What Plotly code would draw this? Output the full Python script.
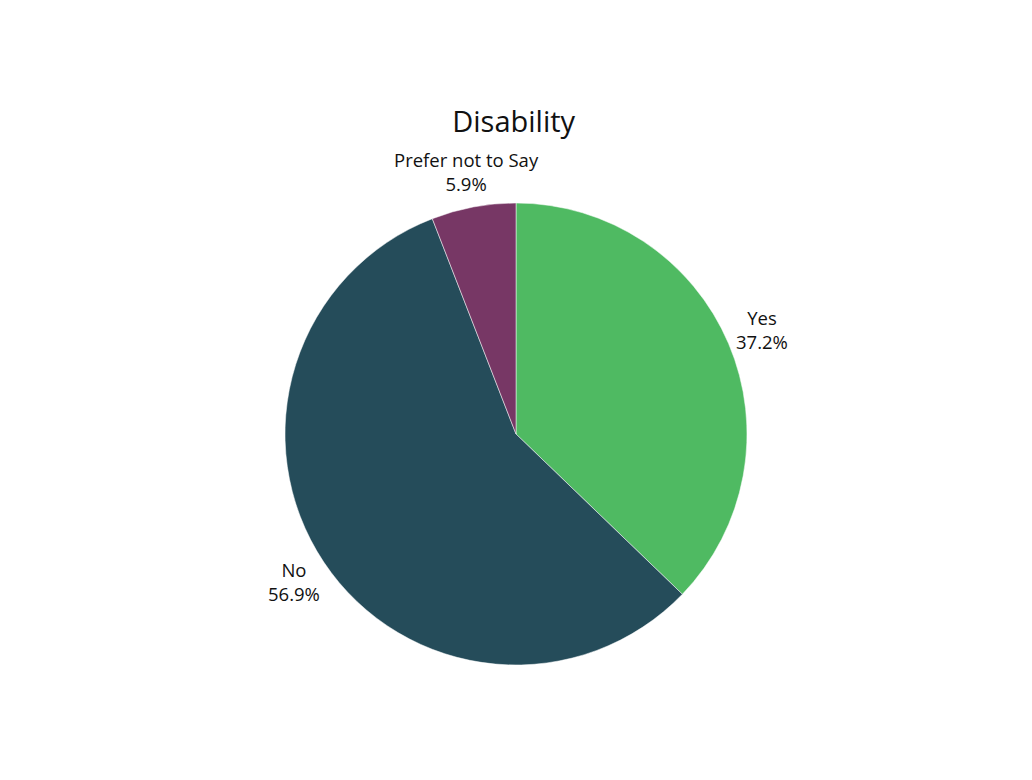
import numpy as np
import plotly.graph_objects as go

# Disability survey answers
labels = ["Yes", "No", "Prefer not to Say"]
values = [37.2, 56.9, 5.9]
colors = ["#4FBA62", "#254C5A", "#773765"]

W, H = 1032, 780
ML, MR, MT, MB = 72, 88, 195, 123
plot_w = W - ML - MR
plot_h = H - MT - MB

fig = go.Figure()
fig.add_trace(go.Pie(
    labels=labels,
    values=values,
    sort=False,
    direction="clockwise",
    rotation=0,
    marker=dict(colors=colors, line=dict(color="white", width=0.5)),
    textposition="none",
    hole=0,
    showlegend=False,
))

# labels sit outside the pie, centred on each slice's middle angle
vals = np.array(values, dtype=float)
share = vals / vals.sum()
mid = (np.cumsum(share) - share / 2) * 2 * np.pi
label_r = 267  # px from pie centre
cx, cy = 0.5, 0.5
for lab, s, a in zip(labels, share, mid):
    fig.add_annotation(
        x=cx + np.sin(a) * label_r / plot_w,
        y=cy + np.cos(a) * label_r / plot_h,
        xref="paper", yref="paper",
        text=f"{lab}<br>{s * 100:.1f}%",
        showarrow=False,
        xanchor="center", yanchor="middle",
        font=dict(size=18.5, color="#111111", family="Open Sans"),
    )

fig.update_layout(
    width=W,
    height=H,
    margin=dict(l=ML, r=MR, t=MT, b=MB),
    paper_bgcolor="white",
    plot_bgcolor="white",
    font=dict(family="Open Sans", color="#111111"),
    title=dict(
        text="Disability",
        x=0.49,
        xanchor="center",
        y=1 - 114 / 780,
        yanchor="middle",
        yref="container",
        font=dict(size=29, color="#111111", family="Open Sans"),
    ),
)

fig.write_html("out.html")
